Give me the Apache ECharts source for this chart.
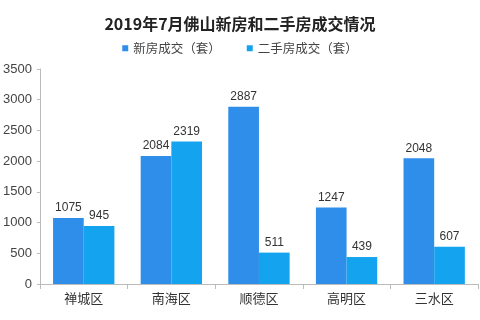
<!DOCTYPE html>
<html><head><meta charset="utf-8">
<script src="https://cdn.jsdelivr.net/npm/echarts@6/dist/echarts.min.js"></script>
<style>html,body{margin:0;padding:0;background:#fff}#c{width:480px;height:320px}</style>
</head><body><div id="c"></div>
<script>
const categories = ['禅城区','南海区','顺德区','高明区','三水区'];
const newHouse = [1075, 2084, 2887, 1247, 2048];
const secondHand = [945, 2319, 511, 439, 607];
const seriesNames = ['新房成交（套）','二手房成交（套）'];
const titleText = '2019年7月佛山新房和二手房成交情况';

const font = '"Noto Sans CJK SC", sans-serif';
const chart = echarts.init(document.getElementById('c'), null, {renderer:'canvas'});
chart.setOption({
  animation:false,
  backgroundColor:'#fff',
  title:{text:titleText,left:'center',top:11,textStyle:{fontFamily:font,fontSize:16,fontWeight:'bold',color:'#222'}},
  legend:{top:37,left:'center',itemWidth:6,itemHeight:6,itemGap:26,icon:'rect',
    textStyle:{fontFamily:font,fontSize:12.5,color:'#444'},data:seriesNames},
  grid:{left:32,right:2,top:69,bottom:36},
  xAxis:{type:'category',data:categories,
    axisLine:{lineStyle:{color:'#bbb'}},
    axisTick:{show:true,length:5,lineStyle:{color:'#bbb'}},
    axisLabel:{fontFamily:font,fontSize:13,color:'#333',margin:8}},
  yAxis:{type:'value',min:0,max:3500,interval:500,
    axisLine:{show:true,lineStyle:{color:'#bbb'}},
    axisTick:{show:true,length:3,lineStyle:{color:'#bbb'}},
    splitLine:{show:false},
    axisLabel:{fontFamily:'"Liberation Sans", sans-serif',fontSize:13,color:'#444',margin:8,
      formatter:function(v){return String(v);}}},
  series:[
    {name:seriesNames[0],type:'bar',data:newHouse,barGap:'0%',barCategoryGap:'30%',
     itemStyle:{color:'#2F8EE9'},
     label:{show:true,position:'top',fontFamily:'"Liberation Sans", sans-serif',fontSize:12,color:'#333',distance:4}},
    {name:seriesNames[1],type:'bar',data:secondHand,
     itemStyle:{color:'#14A3EF'},
     label:{show:true,position:'top',fontFamily:'"Liberation Sans", sans-serif',fontSize:12,color:'#333',distance:4}}
  ]
});
</script></body></html>
